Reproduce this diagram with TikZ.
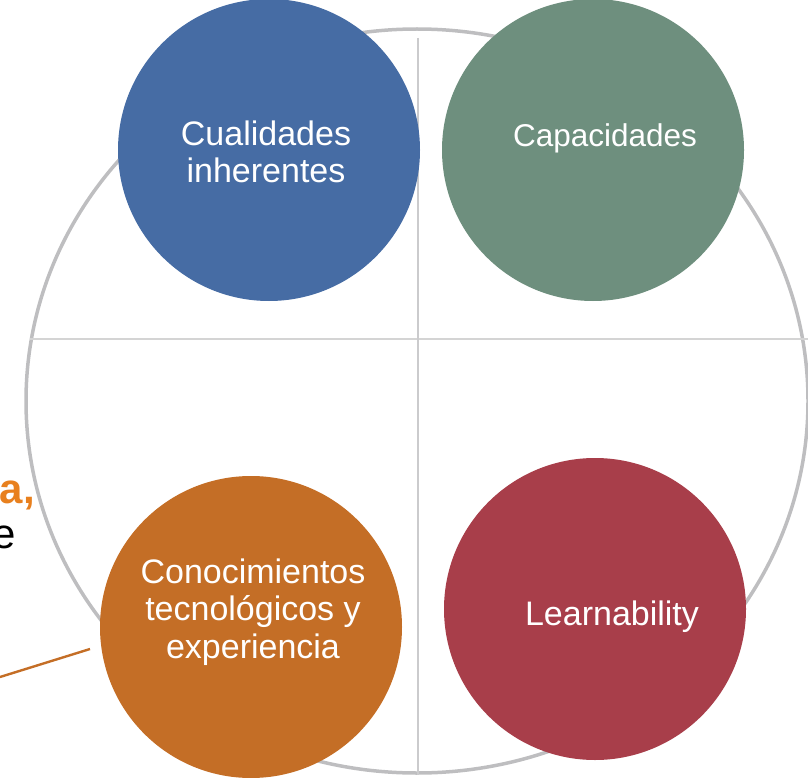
\documentclass[tikz,border=0pt]{standalone}
\usepackage{fontspec}
\setmainfont{Liberation Sans}
\usetikzlibrary{positioning}

\definecolor{cqblue}{RGB}{70,108,164}
\definecolor{cqgreen}{RGB}{110,143,126}
\definecolor{cqorange}{RGB}{196,110,38}
\definecolor{cqred}{RGB}{168,62,74}
\definecolor{cqaccent}{RGB}{232,128,30}
\definecolor{ringgray}{RGB}{190,190,192}
\definecolor{crossgray}{RGB}{212,212,212}

\begin{document}
\begin{tikzpicture}[x=1pt,y=-1pt,
    blob/.style={circle, minimum size=302pt, inner sep=0pt, draw=none},
    blobtext/.style={text=white, align=center, inner sep=0pt,
      font=\fontsize{34}{37.5}\selectfont},
    outtext/.style={anchor=base east, inner sep=0pt,
      font=\fontsize{42}{46}\selectfont}]
  \useasboundingbox (0,0) rectangle (808,778);

  % ring and cross behind the four circles
  \draw[ringgray, line width=3.5pt] (417,401) ellipse [x radius=391, y radius=372];
  \draw[crossgray, line width=1.4pt] (30,339) -- (808,339);
  \draw[ringgray!80, line width=1.4pt] (418,38) -- (418,775);

  % the four circles
  \node[blob, fill=cqblue]   (cual)  at (269,150) {};
  \node[blob, fill=cqgreen]  (capac) at (593,150) {};
  \node[blob, fill=cqorange] (conoc) at (251,627) {};
  \node[blob, fill=cqred]    (learn) at (595,609) {};

  \node[blobtext] (cual-t)  at (266,152) {Cualidades\\inherentes};
  \node[blobtext, anchor=base, font=\fontsize{31.5}{35}\selectfont]
    (capac-t) at (605,147) {Capacidades};
  \node[blobtext] (conoc-t) at (253,612) {Conocimientos\\tecnológicos y\\experiencia};
  \node[blobtext, anchor=base] (learn-t) at (612,625) {Learnability};

  % text running in from the left
  \node[outtext, text=cqaccent] (lefta) at (35,503) {\textbf{a,}};
  \node[outtext] (lefte) at (16,548) {e};

  % callout line to the orange circle
  \coordinate (callout) at (0,677);
  \coordinate (callout-tip) at (90,649);
  \draw[cqorange, line width=2.4pt] (callout) -- (callout-tip);
\end{tikzpicture}
\end{document}
